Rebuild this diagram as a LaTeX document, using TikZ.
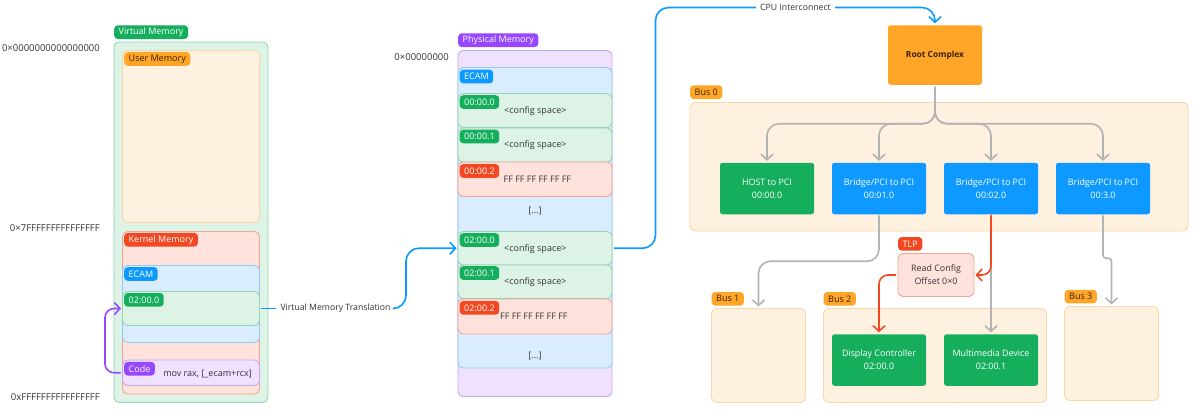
\documentclass[tikz,border=0pt]{standalone}
\usepackage{fontspec}
\setmainfont{Open Sans}
\usetikzlibrary{arrows.meta}
\definecolor{cgreen}{HTML}{14AE5C}
\definecolor{cgreenl}{HTML}{DDF3E6}
\definecolor{cgreenb}{HTML}{93D5B2}
\definecolor{corange}{HTML}{FFA629}
\definecolor{corangel}{HTML}{FFF1DF}
\definecolor{corangeb}{HTML}{F9D6A6}
\definecolor{cred}{HTML}{F24822}
\definecolor{credl}{HTML}{FFE2DC}
\definecolor{credb}{HTML}{EFA595}
\definecolor{cblue}{HTML}{0D99FF}
\definecolor{cbluel}{HTML}{D9EDFF}
\definecolor{cblueb}{HTML}{8FCBF5}
\definecolor{cpurple}{HTML}{9747FF}
\definecolor{cpurplel}{HTML}{EFE1FF}
\definecolor{cpurpleb}{HTML}{C6A6EE}
\definecolor{cgrayl}{HTML}{B3B3B3}
\definecolor{ctext}{HTML}{333333}
\definecolor{cbrown}{HTML}{3D2200}
\tikzset{
  >={Straight Barb[length=5.5pt,width=12pt,line width=1.6pt]},
  area/.style={draw,rounded corners=5pt,line width=0.9pt,anchor=north west,inner sep=0pt,outer sep=0pt},
  greenarea/.style={area,fill=cgreenl,draw=cgreenb},
  orangearea/.style={area,fill=corangel,draw=corangeb},
  redarea/.style={area,fill=credl,draw=credb},
  bluearea/.style={area,fill=cbluel,draw=cblueb},
  purplearea/.style={area,fill=cpurplel,draw=cpurpleb},
  tag/.style={rounded corners=3.5pt,anchor=north west,inner xsep=4.5pt,inner ysep=0pt,minimum height=13.6pt,text=white,font=\fontsize{9}{10}\selectfont},
  greentag/.style={tag,fill=cgreen},
  orangetag/.style={tag,fill=corange,text=cbrown},
  redtag/.style={tag,fill=cred},
  bluetag/.style={tag,fill=cblue},
  purpletag/.style={tag,fill=cpurple},
  device/.style={rounded corners=2.5pt,minimum width=94pt,minimum height=51.5pt,inner sep=0pt,outer sep=0pt,text=white,align=center,font=\fontsize{8.9}{13}\selectfont},
  note/.style={text=ctext,inner sep=0pt,font=\fontsize{9}{13}\selectfont},
  address/.style={note,anchor=east,font=\fontsize{9.5}{13}\selectfont},
  wirelabel/.style={note,font=\fontsize{8.7}{13}\selectfont},
  blueline/.style={draw=cblue,line width=1.6pt,rounded corners=13pt},
  grayline/.style={draw=cgrayl,line width=1.6pt,rounded corners=12pt,shorten >=2pt},
  redline/.style={draw=cred,line width=1.6pt,rounded corners=9pt,shorten >=2pt},
}
\begin{document}
\begin{tikzpicture}[x=1pt,y=-1pt]
\useasboundingbox (0,0) rectangle (1200,418);

\node[address] (vaddrlow) at (100,48.5) {0×0000000000000000};
\node[address] (vaddrmid) at (100,228) {0×7FFFFFFFFFFFFFFF};
\node[address] (vaddrhigh) at (100,397) {0xFFFFFFFFFFFFFFFF};

\node[greenarea,minimum width=154pt,minimum height=360.5pt] (vmem) at (114,42) {};
\node[greentag] (vmemtag) at (114,25.2) {Virtual Memory};
\node[orangearea,minimum width=137pt,minimum height=172pt] (umem) at (122.5,50.5) {};
\node[orangetag] (umemtag) at (124,52) {User Memory};
\node[redarea,minimum width=137pt,minimum height=162.5pt] (kmem) at (122.5,231.5) {};
\node[redtag] (kmemtag) at (124,232.7) {Kernel Memory};
\node[bluearea,minimum width=137pt,minimum height=77pt] (vecam) at (122.5,265.5) {};
\node[bluetag] (vecamtag) at (124,267) {ECAM};
\node[greenarea,minimum width=137pt,minimum height=34pt] (vdev) at (122.5,291.5) {};
\node[greentag] (vdevtag) at (124,292.8) {02:00.0};
\node[purplearea,minimum width=137pt,minimum height=25.5pt] (vcode) at (122.5,360) {};
\node[purpletag] (vcodetag) at (124,361.7) {Code};
\node[note,anchor=east] (vcodetext) at (252,373.5) {mov rax, [\_ecam+rcx]};
\node[wirelabel] (vmt) at (335.5,308.5) {Virtual Memory Translation};

\node[address] (paddr) at (449,57) {0×00000000};
\node[purplearea,minimum width=154pt,minimum height=346pt] (pmem) at (458,50.5) {};
\node[purpletag] (pmemtag) at (458,33.2) {Physical Memory};
\node[bluearea,minimum width=154pt,minimum height=300.5pt] (pecam) at (458,67.5) {};
\node[bluetag] (pecamtag) at (459.5,69.5) {ECAM};
\node[greenarea,minimum width=154pt,minimum height=34pt] (pzero) at (458,93.5) {};
\node[greentag] (pzerotag) at (459.5,95) {00:00.0};
\node[note,anchor=west] (pzerotext) at (504,111) {<config space>};
\node[greenarea,minimum width=154pt,minimum height=34pt] (pone) at (458,128) {};
\node[greentag] (ponetag) at (459.5,129.5) {00:00.1};
\node[note,anchor=west] (ponetext) at (504,145.5) {<config space>};
\node[redarea,minimum width=154pt,minimum height=34.5pt] (ptwo) at (458,162) {};
\node[redtag] (ptwotag) at (459.5,164) {00:00.2};
\node[note,anchor=west] (ptwotext) at (503.5,179.5) {FF FF FF FF FF FF};
\node[note] (pgapa) at (535,211) {[...]};
\node[greenarea,minimum width=154pt,minimum height=33.5pt] (pdev) at (458,231.5) {};
\node[greentag] (pdevtag) at (459.5,233) {02:00.0};
\node[note,anchor=west] (pdevtext) at (504,249) {<config space>};
\node[greenarea,minimum width=154pt,minimum height=33.5pt] (pdevb) at (458,265) {};
\node[greentag] (pdevbtag) at (459.5,266) {02:00.1};
\node[note,anchor=west] (pdevbtext) at (504,282) {<config space>};
\node[redarea,minimum width=154pt,minimum height=35pt] (pdevc) at (458,299) {};
\node[redtag] (pdevctag) at (459.5,300.8) {02:00.2};
\node[note,anchor=west] (pdevctext) at (500,316.5) {FF FF FF FF FF FF};
\node[note] (pgapb) at (535,355.5) {[...]};

\node[orangearea,minimum width=498pt,minimum height=128.5pt] (buszero) at (690,102.5) {};
\node[orangetag] (buszerotag) at (690,85.2) {Bus 0};
\node[orangearea,minimum width=94pt,minimum height=94pt] (busone) at (711.5,308.5) {};
\node[orangetag] (busonetag) at (711.5,291.8) {Bus 1};
\node[orangearea,minimum width=223pt,minimum height=94pt] (bustwo) at (823.5,308.5) {};
\node[orangetag] (bustwotag) at (823.5,291.8) {Bus 2};
\node[orangearea,minimum width=94pt,minimum height=94pt] (busthree) at (1064.5,306.5) {};
\node[orangetag] (busthreetag) at (1064.5,289.6) {Bus 3};

\node[device,fill=corange,text=cbrown,minimum height=59.5pt,font=\fontsize{8.4}{13}\selectfont\bfseries] (root) at (935,55) {Root Complex};
\node[device,fill=cgreen] (host) at (767,188.5) {HOST to PCI\\00:00.0};
\node[device,fill=cblue] (bridgea) at (879,188.5) {Bridge/PCI to PCI\\00:01.0};
\node[device,fill=cblue] (bridgeb) at (991,188.5) {Bridge/PCI to PCI\\00:02.0};
\node[device,fill=cblue] (bridgec) at (1103,188.5) {Bridge/PCI to PCI\\00:3.0};
\node[device,fill=cgreen] (display) at (879,360) {Display Controller\\02:00.0};
\node[device,fill=cgreen] (media) at (991,360) {Multimedia Device\\02:00.1};

\node[redarea,minimum width=76pt,minimum height=43pt,align=center,text=ctext,font=\fontsize{8.9}{13}\selectfont] (tlp) at (898,253.5) {Read Config\\Offset 0×0};
\node[redtag] (tlptag) at (898,236.8) {TLP};
\node[wirelabel] (cpu) at (795.5,7.5) {CPU Interconnect};

\coordinate (codebend) at (105,308.5);
\coordinate (vmtbend) at (406,248.2);
\coordinate (cpubend) at (655.5,7.5);

\path[draw,->,draw=cpurple,line width=1.6pt,rounded corners=9pt,shorten <=2pt,shorten >=1.5pt] (vcode.west) -| (codebend) -- (vdev.west);
\path[blueline,shorten <=1.5pt,shorten >=4pt] (vdev.east) -- (vmt.west);
\path[blueline,->,shorten <=4pt,shorten >=1.5pt] (vmt.east) -| (vmtbend) -- (pdev.west);
\path[blueline,shorten <=2pt,shorten >=4pt] (pdev.east) -| (cpubend) -- (cpu.west);
\path[blueline,->,shorten <=4pt,shorten >=2pt] (cpu.east) -| (root.north);

\path[grayline,->,shorten <=2pt] (root.south) -- ++(0,39) -| (host.north);
\path[grayline,->,shorten <=2pt] (root.south) -- ++(0,39) -| (bridgea.north);
\path[grayline,->,shorten <=2pt] (root.south) -- ++(0,39) -| (bridgeb.north);
\path[grayline,->,shorten <=2pt] (root.south) -- ++(0,39) -| (bridgec.north);
\path[grayline,->,shorten <=1pt] (bridgea.south) -- ++(0,47) -| (busone.north);
\path[grayline,->,rounded corners=3pt,shorten <=1pt] (bridgec.south) -- ++(0,44) -| (busthree.north);
\path[grayline,->] (bridgeb.south) -- (media.north);
\path[redline,->,shorten <=1pt,shorten >=1.5pt] (bridgeb.south) |- (tlp.east);
\path[redline,->,shorten <=2pt] (tlp.west) -| (display.north);
\end{tikzpicture}
\end{document}
